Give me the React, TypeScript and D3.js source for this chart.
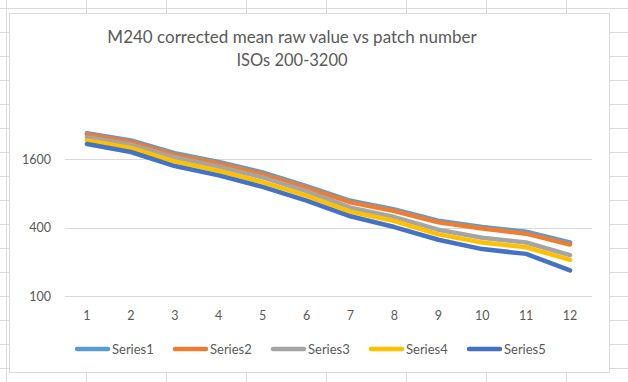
import React from "react";
import * as d3 from "d3";

const categories = [1, 2, 3, 4, 5, 6, 7, 8, 9, 10, 11, 12];
const series1 = [2720, 2350, 1810, 1520, 1225, 930, 690, 580, 460, 405, 368, 296];
const series2 = [2653, 2277, 1757, 1475, 1186, 900, 670, 561, 446, 394, 354, 284];
const series3 = [2506, 2155, 1667, 1376, 1109, 839, 601, 496, 384, 326, 296, 229];
const series4 = [2347, 2014, 1536, 1268, 1007, 765, 554, 458, 349, 296, 269, 208];
const series5 = [2186, 1857, 1396, 1155, 915, 691, 504, 405, 313, 259, 235, 168];
const seriesNames = ["Series1", "Series2", "Series3", "Series4", "Series5"];
const seriesColors = ["#5B9BD5", "#ED7D31", "#A5A5A5", "#FFC000", "#4472C4"];
const yTicks = [100, 400, 1600];
const titleLines = ["M240 corrected mean raw value vs patch number", "ISOs 200-3200"];

const W = 628;
const H = 382;
const FONT = "Lato, 'Noto Sans', sans-serif";

export default function App() {
  const allSeries = [series1, series2, series3, series4, series5];
  const x = d3.scaleBand<number>().domain(categories).range([65, 592]);
  const y = d3.scaleLog().base(4).domain([100, 6400]).range([296, 91]);
  const line = d3
    .line<number>()
    .x((_, i) => (x(categories[i]) as number) + x.bandwidth() / 2)
    .y((d) => y(d));

  const rows = d3.range(8, H, 24);
  const cols = d3.range(6, W, 80);

  return (
    <svg
      width={W}
      height={H}
      style={{ position: "absolute", left: 0, top: 0, background: "#fff" }}
    >
      {/* spreadsheet grid */}
      {rows.map((r) => (
        <line key={"r" + r} x1={0} x2={W} y1={r + 0.5} y2={r + 0.5} stroke="#DADADA" />
      ))}
      {cols.map((c) => (
        <line key={"c" + c} y1={0} y2={H} x1={c + 0.5} x2={c + 0.5} stroke="#DADADA" />
      ))}
      {/* chart area */}
      <rect x={9.5} y={13.5} width={600} height={359} fill="#fff" stroke="#D9D9D9" />
      {/* title */}
      <g fill="#595959" fontFamily={FONT} textAnchor="middle">
        <text x={292} y={43} fontSize={17}>{titleLines[0]}</text>
        <text x={292} y={66} fontSize={16.5}>{titleLines[1]}</text>
      </g>
      {/* gridlines */}
      {yTicks.map((t) => (
        <g key={t}>
          <line x1={65} x2={592} y1={Math.round(y(t)) + 0.5} y2={Math.round(y(t)) + 0.5} stroke="#D9D9D9" />
          <text
            x={51}
            y={y(t) + 4.5}
            textAnchor="end"
            fontSize={12.5}
            fontFamily={FONT}
            fill="#595959"
          >
            {t}
          </text>
        </g>
      ))}
      {categories.map((c) => (
        <text
          key={c}
          x={(x(c) as number) + x.bandwidth() / 2}
          y={320}
          textAnchor="middle"
          fontSize={12.5}
          fontFamily={FONT}
          fill="#595959"
        >
          {c}
        </text>
      ))}
      {/* series */}
      {allSeries.map((s, i) => (
        <path
          key={i}
          d={line(s) || ""}
          fill="none"
          stroke={seriesColors[i]}
          strokeWidth={4.5}
          strokeLinejoin="round"
          strokeLinecap="round"
        />
      ))}
      {/* legend */}
      {seriesNames.map((n, i) => {
        const lx = 75 + i * 98;
        return (
          <g key={n}>
            <line
              x1={lx + 2}
              x2={lx + 33}
              y1={349}
              y2={349}
              stroke={seriesColors[i]}
              strokeWidth={4.5}
              strokeLinecap="round"
            />
            <text x={lx + 37} y={353.5} fontSize={13} fontFamily={FONT} fill="#595959">
              {n}
            </text>
          </g>
        );
      })}
    </svg>
  );
}
